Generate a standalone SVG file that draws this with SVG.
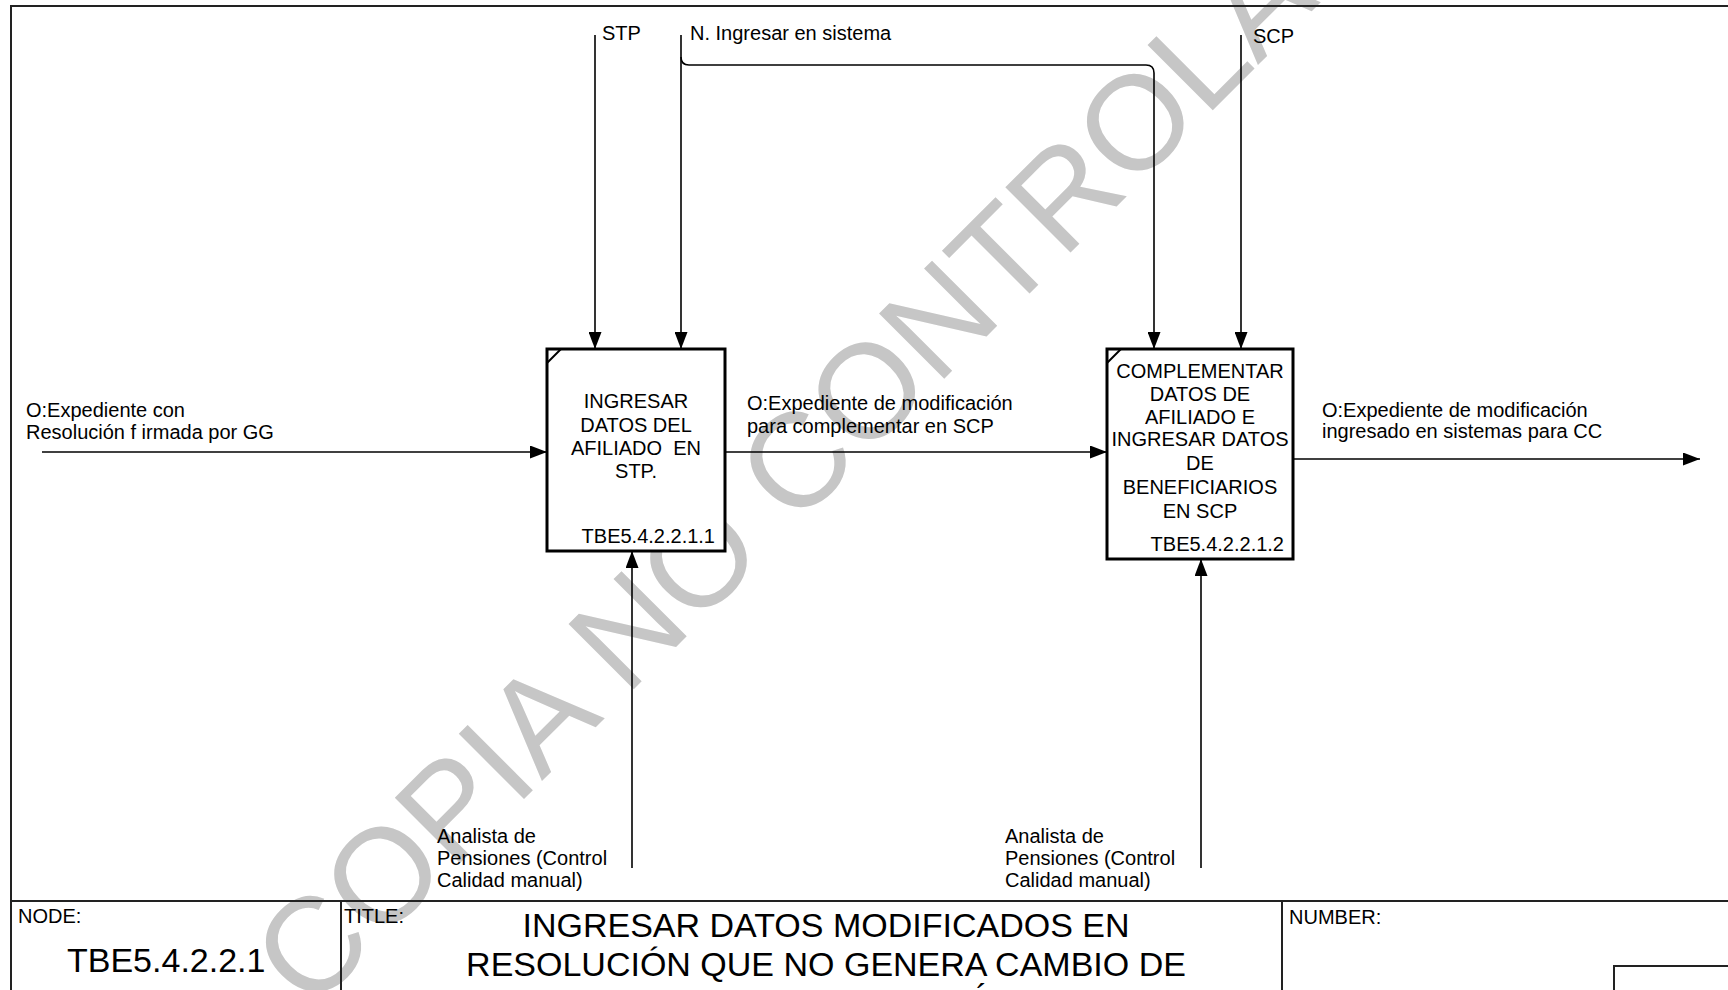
<svg xmlns="http://www.w3.org/2000/svg" width="1728" height="990" viewBox="0 0 1728 990">
<style>
  .lbl { font-family: "Liberation Sans", Arial, sans-serif; font-size: 20px; fill: #000; }
  .box { fill: #fff; stroke: #000; stroke-width: 3; }
  .corner { stroke: #000; stroke-width: 2; fill: none; }
  .conn { stroke: #000; stroke-width: 1.6; fill: none; }
  .frame { stroke: #222; stroke-width: 2; fill: none; }
  .mid { text-anchor: middle; }
  .end { text-anchor: end; }
  .wm { font-family: "Liberation Sans", Arial, sans-serif; font-size: 134px; fill: #c6c6c6; }
  .big { font-family: "Liberation Sans", Arial, sans-serif; font-size: 34px; fill: #000; }
</style>
<defs>
  <marker id="arr" markerUnits="userSpaceOnUse" markerWidth="17" markerHeight="13" refX="17" refY="6.5" orient="auto">
    <path d="M0,0 L17,6.5 L0,13 z" fill="#000"/>
  </marker>
</defs>
<rect x="0" y="0" width="1728" height="990" fill="#fff"/>
<g id="watermark">
  <text class="wm" x="310" y="1013" transform="rotate(-45 310 1013)">COPIA NO CONTROLADA</text>
</g>
<g id="frame">
  <rect class="frame" x="11" y="6" width="1730" height="1000"/>
  <line class="frame" x1="11" y1="901" x2="1728" y2="901"/>
  <line class="frame" x1="341" y1="901" x2="341" y2="990"/>
  <line class="frame" x1="1282" y1="901" x2="1282" y2="990"/>
  <rect class="frame" x="1614" y="966" width="130" height="40"/>
</g>
<g id="connectors">
  <path class="conn" d="M42,452 H547" marker-end="url(#arr)"/>
  <path class="conn" d="M725,452 H1107" marker-end="url(#arr)"/>
  <path class="conn" d="M1293,459 H1700" marker-end="url(#arr)"/>
  <path class="conn" d="M595,35 V349" marker-end="url(#arr)"/>
  <path class="conn" d="M681,35 V349" marker-end="url(#arr)"/>
  <path class="conn" d="M681,57 Q681,65 689,65 H1146 Q1154,65 1154,73 V349" marker-end="url(#arr)"/>
  <path class="conn" d="M1241,35 V349" marker-end="url(#arr)"/>
  <path class="conn" d="M632,868 V551" marker-end="url(#arr)"/>
  <path class="conn" d="M1201,868 V559" marker-end="url(#arr)"/>
</g>
<g id="labels">
  <text class="lbl" x="602" y="40">STP</text>
  <text class="lbl" x="690" y="40">N. Ingresar en sistema</text>
  <text class="lbl" x="1253" y="43">SCP</text>
  <text class="lbl" x="26" y="417">O:Expediente con</text>
  <text class="lbl" x="26" y="439">Resolución f irmada por GG</text>
  <text class="lbl" x="747" y="410">O:Expediente de modificación</text>
  <text class="lbl" x="747" y="433">para complementar en SCP</text>
  <text class="lbl" x="1322" y="417">O:Expediente de modificación</text>
  <text class="lbl" x="1322" y="438">ingresado en sistemas para CC</text>
  <text class="lbl" x="437" y="843">Analista de</text>
  <text class="lbl" x="437" y="865">Pensiones (Control</text>
  <text class="lbl" x="437" y="887">Calidad manual)</text>
  <text class="lbl" x="1005" y="843">Analista de</text>
  <text class="lbl" x="1005" y="865">Pensiones (Control</text>
  <text class="lbl" x="1005" y="887">Calidad manual)</text>
</g>
<g id="box1">
  <rect class="box" x="547" y="349" width="178" height="202"/>
  <line class="corner" x1="547" y1="363" x2="561" y2="349"/>
  <text class="lbl mid" x="636" y="408">INGRESAR</text>
  <text class="lbl mid" x="636" y="432">DATOS DEL</text>
  <text class="lbl mid" x="636" y="455" xml:space="preserve">AFILIADO  EN</text>
  <text class="lbl mid" x="636" y="478">STP.</text>
  <text class="lbl end" x="715" y="543">TBE5.4.2.2.1.1</text>
</g>
<g id="box2">
  <rect class="box" x="1107" y="349" width="186" height="210"/>
  <line class="corner" x1="1107" y1="363" x2="1121" y2="349"/>
  <text class="lbl mid" x="1200" y="378">COMPLEMENTAR</text>
  <text class="lbl mid" x="1200" y="401">DATOS DE</text>
  <text class="lbl mid" x="1200" y="424">AFILIADO E</text>
  <text class="lbl mid" x="1200" y="446">INGRESAR DATOS</text>
  <text class="lbl mid" x="1200" y="470">DE</text>
  <text class="lbl mid" x="1200" y="494">BENEFICIARIOS</text>
  <text class="lbl mid" x="1200" y="518">EN SCP</text>
  <text class="lbl end" x="1284" y="551">TBE5.4.2.2.1.2</text>
</g>
<g id="titleblock">
  <text class="lbl" x="18" y="923">NODE:</text>
  <text class="big" x="67" y="972">TBE5.4.2.2.1</text>
  <text class="lbl" x="344" y="923">TITLE:</text>
  <text class="big mid" x="826" y="937">INGRESAR DATOS MODIFICADOS EN</text>
  <text class="big mid" x="826" y="976">RESOLUCIÓN QUE NO GENERA CAMBIO DE</text>
  <text class="big" x="976" y="1008">´</text>
  <text class="lbl" x="1289" y="924">NUMBER:</text>
</g>
</svg>
